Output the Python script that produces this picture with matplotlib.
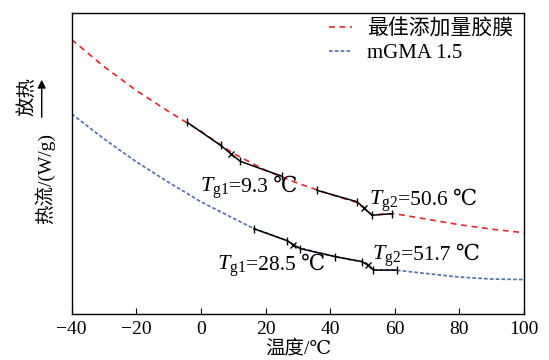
#!/usr/bin/env python3

import matplotlib
matplotlib.use('Agg')
import matplotlib.pyplot as plt

# -- DSC curves (heat flow in arbitrary units, exo up)
temp_red = [-40, -30, -20, -10, 0, 10, 20, 30, 40, 48, 51, 53, 56, 60, 70, 80, 90, 100]
flow_red = [-0.054, -0.108, -0.156, -0.198, -0.238, -0.282, -0.316, -0.342, -0.364,
            -0.380, -0.394, -0.406, -0.404, -0.403, -0.414, -0.425, -0.434, -0.441]

temp_blue = [-40, -30, -20, -10, 0, 10, 16.4, 20, 26.7, 30, 35, 41.6, 46, 50, 52,
             53.4, 56, 60, 70, 80, 90, 100]
flow_blue = [-0.203, -0.253, -0.299, -0.340, -0.379, -0.412, -0.433, -0.441, -0.457,
             -0.470, -0.479, -0.489, -0.495, -0.499, -0.506, -0.516, -0.516, -0.516,
             -0.523, -0.530, -0.534, -0.535]

# -- tangent construction lines (black)
tan_red1_t = [-4.2, 6.1, 9.3, 12.2, 25.1]
tan_red1_y = [-0.220, -0.266, -0.283, -0.298, -0.328]
tan_red2_t = [35.9, 48.3, 50.6, 52.9, 59.1]
tan_red2_y = [-0.356, -0.379, -0.392, -0.406, -0.403]
tan_blue_t = [16.4, 26.7, 28.5, 30.8, 41.6, 49.8, 51.7, 53.4, 60.7]
tan_blue_y = [-0.433, -0.457, -0.465, -0.473, -0.489, -0.499, -0.506, -0.516, -0.516]

tg_red = [9.3, 50.6]
tg_blue = [28.5, 51.7]

series_names = ['最佳添加量胶膜', 'mGMA 1.5']
# label anchor (temperature, flow) where "=" starts
tg_label_pos = [(8.6, -0.359), (61.1, -0.386), (14.0, -0.516), (61.9, -0.495)]
tg_label_sub = ['g1', 'g2', 'g1', 'g2']
tg_label_val = ['9.3', '50.6', '28.5', '51.7']

FONT = ['Liberation Serif', 'DejaVu Serif', 'Noto Sans CJK SC']
plt.rcParams['font.family'] = FONT
plt.rcParams['font.size'] = 14
plt.rcParams['mathtext.fontset'] = 'custom'
plt.rcParams['mathtext.rm'] = 'Liberation Serif'
plt.rcParams['mathtext.it'] = 'Liberation Serif:italic'

RED = '#e0262b'
BLUE = '#4d70a8'

fig = plt.figure(figsize=(5.49, 3.60), dpi=100)
ax = fig.add_axes([0.1306, 0.1278, 0.8239, 0.8369])

ax.plot(temp_red, flow_red, color=RED, lw=1.2, dashes=(3.5, 2.8), label=series_names[0])
ax.plot(temp_blue, flow_blue, color=BLUE, lw=1.2, dashes=(2.2, 1.3), label=series_names[1])


def draw_tangent(ts, ys, tgs):
    ax.plot(ts, ys, color='black', lw=1.1, zorder=5)
    ticks_t = [t for t in ts if t not in tgs]
    ticks_y = [y for t, y in zip(ts, ys) if t not in tgs]
    ax.plot(ticks_t, ticks_y, ls='none', marker='|', ms=6, mew=1.0, color='black', zorder=6)
    cross_t = [t for t in ts if t in tgs]
    cross_y = [y for t, y in zip(ts, ys) if t in tgs]
    ax.plot(cross_t, cross_y, ls='none', marker='x', ms=5, mew=1.0, color='black', zorder=6)


draw_tangent(tan_red1_t, tan_red1_y, tg_red)
draw_tangent(tan_red2_t, tan_red2_y, tg_red)
draw_tangent(tan_blue_t, tan_blue_y, tg_blue)

for (t, y), sub, val in zip(tg_label_pos, tg_label_sub, tg_label_val):
    ax.text(t, y, r'$T_{\rm %s}$' % sub, ha='right', va='baseline', fontsize=16)
    ax.text(t, y, '=%s ℃' % val, ha='left', va='baseline', fontsize=15.5, family=FONT)

ax.set_xlim(-40, 100)
ax.set_ylim(-0.604, 0.0)
ax.set_xticks(range(-40, 101, 20))
ax.set_yticks([])
ax.tick_params(axis='x', direction='in', length=4, width=0.8, pad=5)
for s in ax.spines.values():
    s.set_linewidth(1.0)

ax.set_xlabel('温度/℃', labelpad=1)

fig.text(45 / 549, 1 - 179 / 360, '热流/(W/g)', rotation=90, ha='center', va='center')
fig.text(27 / 549, 1 - 97 / 360, '放热', rotation=90, ha='center', va='center')
fig.add_artist(matplotlib.patches.FancyArrowPatch(
    (41.7 / 549, 1 - 120 / 360), (41.7 / 549, 1 - 77 / 360),
    transform=fig.transFigure, arrowstyle='-|>', mutation_scale=12, lw=1.0, color='black'))

ax.legend(loc='upper right', bbox_to_anchor=(0.991, 1.0), frameon=False, fontsize=15,
          handlelength=1.1, handletextpad=0.72, labelspacing=0.2, borderaxespad=0.12,
          borderpad=0.2)

fig.savefig('out.png', dpi=100)
